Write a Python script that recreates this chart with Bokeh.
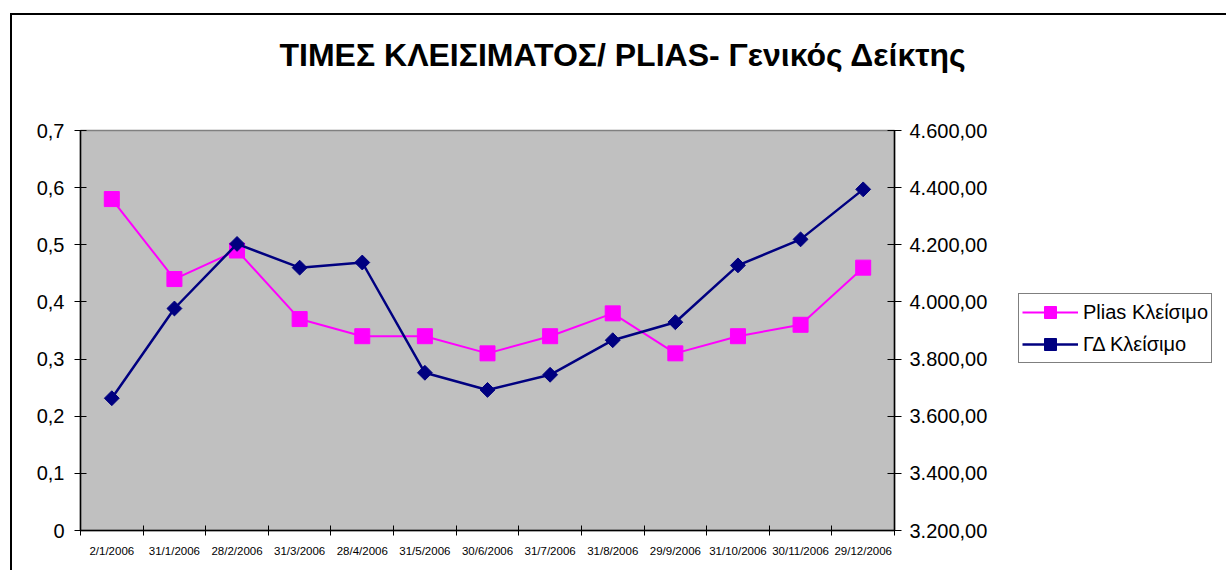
import math
from bokeh.plotting import figure
from bokeh.models import (Range1d, LinearAxis, FixedTicker, CustomJSTickFormatter,
                          Legend, LegendItem)
from bokeh.embed import file_html
from bokeh.resources import INLINE

# ---------------- data ----------------
dates = ["2/1/2006", "31/1/2006", "28/2/2006", "31/3/2006", "28/4/2006", "31/5/2006",
         "30/6/2006", "31/7/2006", "31/8/2006", "29/9/2006", "31/10/2006", "30/11/2006",
         "29/12/2006"]
plias_close = [0.58, 0.44, 0.49, 0.37, 0.34, 0.34, 0.31, 0.34, 0.38, 0.31, 0.34, 0.36, 0.46]
gd_close = [3663, 3977, 4203, 4120, 4138, 3752, 3692, 3745, 3866, 3929, 4128, 4219, 4394]

left_ticks = [0, 0.1, 0.2, 0.3, 0.4, 0.5, 0.6, 0.7]
left_tick_labels = ["0", "0,1", "0,2", "0,3", "0,4", "0,5", "0,6", "0,7"]
right_ticks = [3200, 3400, 3600, 3800, 4000, 4200, 4400, 4600]
right_tick_labels = ["3.200,00", "3.400,00", "3.600,00", "3.800,00", "4.000,00",
                     "4.200,00", "4.400,00", "4.600,00"]

title_text = "ΤΙΜΕΣ ΚΛΕΙΣΙΜΑΤΟΣ/ PLIAS- Γενικός Δείκτης"
series_names = ["Plias Κλείσιμο", "ΓΔ Κλείσιμο"]

# ---------------- figure ----------------
n = len(dates)
xs = list(range(1, n + 1))

FONT = "Liberation Sans"
OX, OY = 12, 15   # figure origin inside the outer border

p = figure(frame_width=814, frame_height=400, output_backend="svg", toolbar_location=None,
           x_range=Range1d(0.5, n + 0.5), y_range=Range1d(0, 0.7),
           min_border_left=80 - OX, min_border_right=1018 - 894,
           min_border_top=130 - OY, min_border_bottom=40)
p.margin = (13, 0, 0, 10)
p.styles = {"border-left": "2px solid black", "border-top": "2px solid black"}
p.extra_y_ranges = {"gd": Range1d(3200, 4600)}
p.background_fill_color = "#C0C0C0"
p.border_fill_color = "white"
p.outline_line_color = "#808080"
p.outline_line_width = 1.5
p.xgrid.visible = False
p.ygrid.visible = False

# title (trailing empty line keeps it high above the plot area)
p.title.text = title_text + "\n"
p.title.align = "left"
p.title.vertical_align = "top"
p.title.offset = 279 - 80
p.title.text_font = FONT
p.title.text_font_style = "bold"
p.title.text_font_size = "32px"
p.title.text_color = "black"
p.title.standoff = 40

# x axis
xa = p.xaxis[0]
xa.ticker = FixedTicker(ticks=xs, minor_ticks=[i + 0.5 for i in range(0, n + 1)])
xa.formatter = CustomJSTickFormatter(args=dict(labs=dates),
                                     code="return labs[Math.round(tick) - 1] || '';")
xa.major_tick_in = 0
xa.major_tick_out = 0
xa.minor_tick_in = 5
xa.minor_tick_out = 5
xa.minor_tick_line_color = "black"
xa.axis_line_color = "black"
xa.axis_line_width = 1.5
xa.major_label_text_font = FONT
xa.major_label_text_font_size = "11.5px"
xa.major_label_text_color = "black"
xa.major_label_standoff = 9

# left y axis
ya = p.yaxis[0]
ya.ticker = FixedTicker(ticks=left_ticks, minor_ticks=[])
ya.formatter = CustomJSTickFormatter(args=dict(vals=left_ticks, labs=left_tick_labels), code="""
let best = 0, bd = 1e99;
for (let j = 0; j < vals.length; j++) { const d = Math.abs(vals[j] - tick); if (d < bd) { bd = d; best = j; } }
return labs[best];
""")
ya.major_tick_in = 6
ya.major_tick_out = 6
ya.major_tick_line_color = "black"
ya.axis_line_color = "black"
ya.axis_line_width = 1.5
ya.major_label_text_font = FONT
ya.major_label_text_font_size = "20px"
ya.major_label_text_color = "black"
ya.major_label_standoff = 10

# right y axis
ra = LinearAxis(y_range_name="gd")
ra.ticker = FixedTicker(ticks=right_ticks, minor_ticks=[])
ra.formatter = CustomJSTickFormatter(args=dict(vals=right_ticks, labs=right_tick_labels), code="""
let best = 0, bd = 1e99;
for (let j = 0; j < vals.length; j++) { const d = Math.abs(vals[j] - tick); if (d < bd) { bd = d; best = j; } }
return labs[best];
""")
ra.major_tick_in = 7
ra.major_tick_out = 7
ra.major_tick_line_color = "black"
ra.axis_line_color = "black"
ra.axis_line_width = 1.5
ra.major_label_text_font = FONT
ra.major_label_text_font_size = "20px"
ra.major_label_text_color = "black"
ra.major_label_standoff = 8
p.add_layout(ra, "right")

# series
pl_line = p.line(xs, plias_close, line_color="#FF00FF", line_width=2)
pl_mark = p.scatter(xs, plias_close, marker="square", size=15, fill_color="#FF00FF",
                    line_color="#FF00FF")
gd_line = p.line(xs, gd_close, line_color="#000080", line_width=2.5, y_range_name="gd")
gd_mark = p.scatter(xs, gd_close, marker="square", angle=math.pi / 4, size=10.5,
                    fill_color="#000080", line_color="#000080", y_range_name="gd")

legend = Legend(items=[LegendItem(label=series_names[0], renderers=[pl_line, pl_mark]),
                       LegendItem(label=series_names[1], renderers=[gd_line, gd_mark])],
                location=(1018 - 1213, 530 - 363))
legend.border_line_color = "black"
legend.border_line_width = 1
legend.background_fill_color = "white"
legend.background_fill_alpha = 1
legend.label_text_font = FONT
legend.label_text_font_size = "20px"
legend.label_text_color = "black"
legend.glyph_width = 56
legend.glyph_height = 30
legend.label_height = 30
legend.spacing = 2
legend.padding = 3
legend.label_standoff = 5
legend.margin = 0
p.add_layout(legend, "right")

open("out.html", "w").write(file_html(p, INLINE))
